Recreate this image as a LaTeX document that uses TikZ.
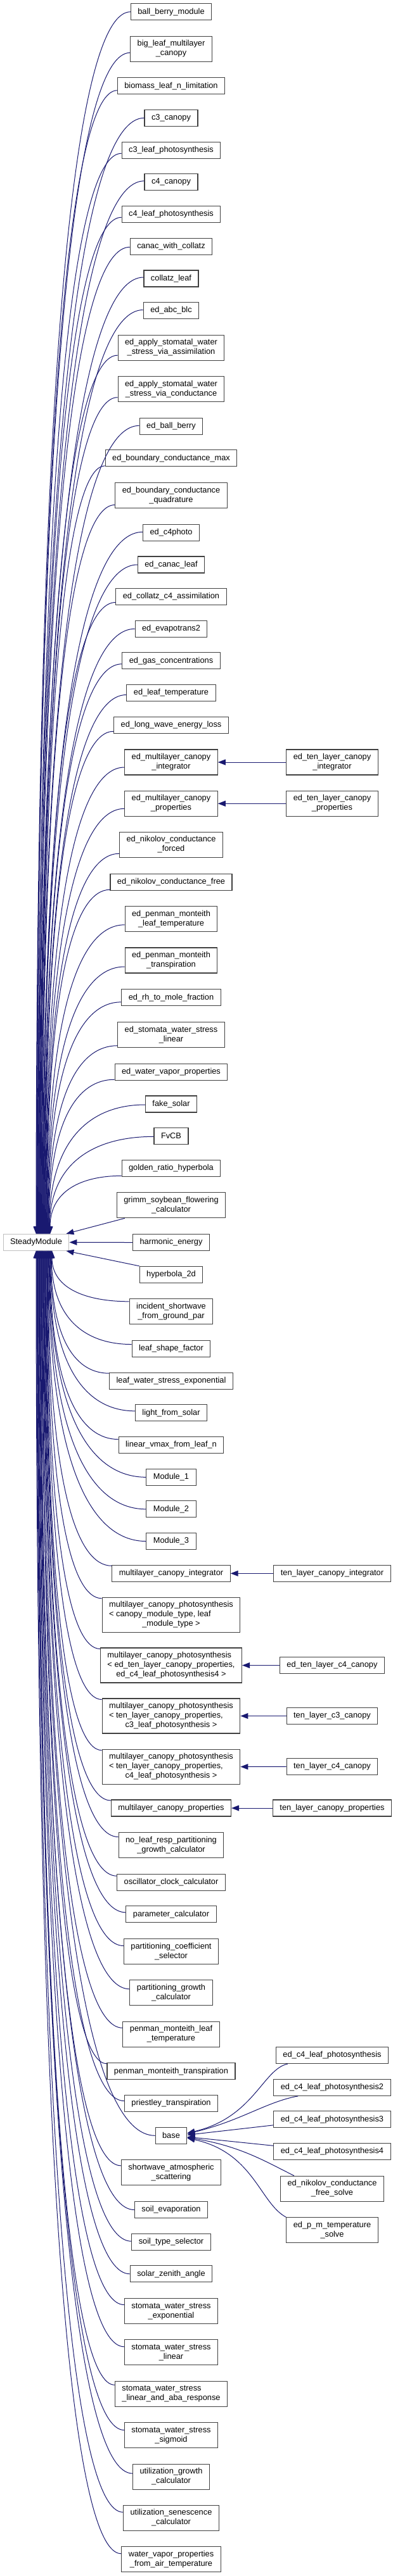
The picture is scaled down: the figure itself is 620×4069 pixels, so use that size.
\documentclass[tikz,border=0pt]{standalone}
\usepackage{fontspec}
\setmainfont{Liberation Sans}
\usetikzlibrary{arrows.meta,calc}
\definecolor{edgecol}{HTML}{191970}
\definecolor{boxcol}{HTML}{404040}
\definecolor{rootcol}{HTML}{BFBFBF}
\newcommand{\twol}[2]{\begin{tabular}{@{}l@{}}#1\\\multicolumn{1}{@{}c@{}}{#2}\end{tabular}}
\newcommand{\threel}[3]{\begin{tabular}{@{}l@{}}#1\\#2\\\multicolumn{1}{@{}c@{}}{#3}\end{tabular}}
\newcommand{\sedge}[4]{%
  \draw[inh] let \p1=($(#1.west)+(0,#2)$), \p2=(#3,#4),
    \n1={0.55*(\x1-\x2)}, \n2={0.75*(\y1-\y2)} in
    (\p1) .. controls ($(\p1)+(-\n1,0pt)$) and ($(\p2)+(0pt,\n2)$) .. (\p2);}
\newcommand{\uedge}[3]{\sedge{#1}{#2}{#3}{1949.3}}
\newcommand{\dedge}[3]{\sedge{#1}{#2}{#3}{1975.3}}
\tikzset{
  box/.style={draw=boxcol, line width=1.1pt, fill=white, inner xsep=11pt, inner ysep=2pt,
    minimum height=26pt, font=\fontsize{12.8}{15}\selectfont},
  box2/.style={box, minimum height=40pt},
  box3/.style={box, minimum height=55pt},
  rootbox/.style={box, draw=rootcol},
  inh/.style={draw=edgecol, line width=1pt, -{Triangle[length=12pt,width=9pt]}}
}
\begin{document}
\begin{tikzpicture}[x=1pt,y=-1pt]
\useasboundingbox (0,0) rectangle (620,4069);
% root
\node[rootbox] (sm) at (57,1962.3) {SteadyModule};
% middle column
\node[box]  (n01) at (270,18.7) {ball\_berry\_module};
\node[box2] (n02) at (270,77.3) {\twol{big\_leaf\_multilayer}{\_canopy}};
\node[box]  (n03) at (270,135.8) {biomass\_leaf\_n\_limitation};
\node[box]  (n04) at (270,186.3) {c3\_canopy};
\node[box]  (n05) at (270,237.3) {c3\_leaf\_photosynthesis};
\node[box]  (n06) at (270,287.8) {c4\_canopy};
\node[box]  (n07) at (270,338.3) {c4\_leaf\_photosynthesis};
\node[box]  (n08) at (270,389.3) {canac\_with\_collatz};
\node[box]  (n09) at (270,440) {collatz\_leaf};
\node[box]  (n10) at (270,490.5) {ed\_abc\_blc};
\node[box2] (n11) at (270,549.2) {\twol{ed\_apply\_stomatal\_water}{\_stress\_via\_assimilation}};
\node[box2] (n12) at (270,614.7) {\twol{ed\_apply\_stomatal\_water}{\_stress\_via\_conductance}};
\node[box]  (n13) at (270,673.3) {ed\_ball\_berry};
\node[box]  (n14) at (270,723.8) {ed\_boundary\_conductance\_max};
\node[box2] (n15) at (270,782.5) {\twol{ed\_boundary\_conductance}{\_quadrature}};
\node[box]  (n16) at (270,841.3) {ed\_c4photo};
\node[box]  (n17) at (270,892) {ed\_canac\_leaf};
\node[box]  (n18) at (270,942.5) {ed\_collatz\_c4\_assimilation};
\node[box]  (n19) at (270,993.3) {ed\_evapotrans2};
\node[box]  (n20) at (270,1043.8) {ed\_gas\_concentrations};
\node[box]  (n21) at (270,1094.5) {ed\_leaf\_temperature};
\node[box]  (n22) at (270,1145.2) {ed\_long\_wave\_energy\_loss};
\node[box2] (n23) at (270,1204) {\twol{ed\_multilayer\_canopy}{\_integrator}};
\node[box2] (n24) at (270,1269.3) {\twol{ed\_multilayer\_canopy}{\_properties}};
\node[box2] (n25) at (270,1334.3) {\twol{ed\_nikolov\_conductance}{\_forced}};
\node[box]  (n26) at (270,1393.3) {ed\_nikolov\_conductance\_free};
\node[box2] (n27) at (270,1451.8) {\twol{ed\_penman\_monteith}{\_leaf\_temperature}};
\node[box2] (n28) at (270,1517) {\twol{ed\_penman\_monteith}{\_transpiration}};
\node[box]  (n29) at (270,1575.8) {ed\_rh\_to\_mole\_fraction};
\node[box2] (n30) at (270,1634.7) {\twol{ed\_stomata\_water\_stress}{\_linear}};
\node[box]  (n31) at (270,1693.2) {ed\_water\_vapor\_properties};
\node[box]  (n32) at (270,1744) {fake\_solar};
\node[box]  (n33) at (270,1794.3) {FvCB};
\node[box]  (n34) at (270,1845.3) {golden\_ratio\_hyperbola};
\node[box2] (n35) at (270,1903.8) {\twol{grimm\_soybean\_flowering}{\_calculator}};
\node[box]  (n36) at (270,1962.5) {harmonic\_energy};
\node[box]  (n37) at (270,2013.3) {hyperbola\_2d};
\node[box2] (n38) at (270,2071.8) {\twol{incident\_shortwave}{\_from\_ground\_par}};
\node[box]  (n39) at (270,2130.5) {leaf\_shape\_factor};
\node[box]  (n40) at (270,2181.2) {leaf\_water\_stress\_exponential};
\node[box]  (n41) at (270,2231.8) {light\_from\_solar};
\node[box]  (n42) at (270,2282.5) {linear\_vmax\_from\_leaf\_n};
\node[box]  (n43) at (270,2333.3) {Module\_1};
\node[box]  (n44) at (270,2383.8) {Module\_2};
\node[box]  (n45) at (270,2434.5) {Module\_3};
\node[box]  (n46) at (270,2485.3) {multilayer\_canopy\_integrator};
\node[box3] (n47) at (270,2550.8) {\threel{multilayer\_canopy\_photosynthesis}{< canopy\_module\_type, leaf}{\_module\_type >}};
\node[box3] (n48) at (270,2630.5) {\threel{multilayer\_canopy\_photosynthesis}{< ed\_ten\_layer\_canopy\_properties,}{ed\_c4\_leaf\_photosynthesis4 >}};
\node[box3] (n49) at (270,2710.5) {\threel{multilayer\_canopy\_photosynthesis}{< ten\_layer\_canopy\_properties,}{c3\_leaf\_photosynthesis >}};
\node[box3] (n50) at (270,2790.7) {\threel{multilayer\_canopy\_photosynthesis}{< ten\_layer\_canopy\_properties,}{c4\_leaf\_photosynthesis >}};
\node[box]  (n51) at (270,2856) {multilayer\_canopy\_properties};
\node[box2] (n52) at (270,2914.5) {\twol{no\_leaf\_resp\_partitioning}{\_growth\_calculator}};
\node[box]  (n53) at (270,2973.2) {oscillator\_clock\_calculator};
\node[box]  (n54) at (270,3023.8) {parameter\_calculator};
\node[box2] (n55) at (270,3082.5) {\twol{partitioning\_coefficient}{\_selector}};
\node[box2] (n56) at (270,3147.8) {\twol{partitioning\_growth}{\_calculator}};
\node[box2] (n57) at (270,3213.2) {\twol{penman\_monteith\_leaf}{\_temperature}};
\node[box]  (n58) at (270,3271.8) {penman\_monteith\_transpiration};
\node[box]  (n59) at (270,3322.5) {priestley\_transpiration};
\node[box]  (n60) at (270,3373.3) {base};
\node[box2] (n61) at (270,3431.8) {\twol{shortwave\_atmospheric}{\_scattering}};
\node[box]  (n62) at (270,3490.5) {soil\_evaporation};
\node[box]  (n63) at (270,3541.2) {soil\_type\_selector};
\node[box]  (n64) at (270,3591.8) {solar\_zenith\_angle};
\node[box2] (n65) at (270,3650.5) {\twol{stomata\_water\_stress}{\_exponential}};
\node[box2] (n66) at (270,3715.8) {\twol{stomata\_water\_stress}{\_linear}};
\node[box2] (n67) at (270,3781.2) {\twol{stomata\_water\_stress}{\_linear\_and\_aba\_response}};
\node[box2] (n68) at (270,3846.5) {\twol{stomata\_water\_stress}{\_sigmoid}};
\node[box2] (n69) at (270,3912) {\twol{utilization\_growth}{\_calculator}};
\node[box2] (n70) at (270,3977.2) {\twol{utilization\_senescence}{\_calculator}};
\node[box2] (n71) at (270,4042.7) {\twol{water\_vapor\_properties}{\_from\_air\_temperature}};
% right column
\node[box2] (r23) at (524,1204) {\twol{ed\_ten\_layer\_canopy}{\_integrator}};
\node[box2] (r24) at (524,1269.3) {\twol{ed\_ten\_layer\_canopy}{\_properties}};
\node[box]  (r46) at (524,2485.3) {ten\_layer\_canopy\_integrator};
\node[box]  (r48) at (524,2630.5) {ed\_ten\_layer\_c4\_canopy};
\node[box]  (r49) at (524,2710.5) {ten\_layer\_c3\_canopy};
\node[box]  (r50) at (524,2790.5) {ten\_layer\_c4\_canopy};
\node[box]  (r51) at (524,2856) {ten\_layer\_canopy\_properties};
\node[box]  (b1) at (524,3246.5) {ed\_c4\_leaf\_photosynthesis};
\node[box]  (b2) at (524,3297.3) {ed\_c4\_leaf\_photosynthesis2};
\node[box]  (b3) at (524,3347.8) {ed\_c4\_leaf\_photosynthesis3};
\node[box]  (b4) at (524,3398.3) {ed\_c4\_leaf\_photosynthesis4};
\node[box2] (b5) at (524,3457.2) {\twol{ed\_nikolov\_conductance}{\_free\_solve}};
\node[box2] (b6) at (524,3522.7) {\twol{ed\_p\_m\_temperature}{\_solve}};
% edges to SteadyModule from above
\uedge{n01}{0}{57}
\uedge{n02}{6}{57.7}
\uedge{n03}{7}{58.3}
\uedge{n04}{0}{59}
\uedge{n05}{5}{59.7}
\uedge{n06}{-2}{60.3}
\uedge{n07}{5}{61}
\uedge{n08}{1}{61.7}
\uedge{n09}{-2}{62.3}
\uedge{n10}{-1}{63}
\uedge{n11}{12}{63.7}
\uedge{n12}{13}{64.3}
\uedge{n13}{-1}{65}
\uedge{n14}{12}{65.7}
\uedge{n15}{15}{66.3}
\uedge{n16}{-1}{67}
\uedge{n17}{0}{67.7}
\uedge{n18}{9}{68.3}
\uedge{n19}{0}{69}
\uedge{n20}{5}{69.7}
\uedge{n21}{3}{70.3}
\uedge{n22}{10}{71}
\uedge{n23}{8}{71.7}
\uedge{n24}{8}{72.3}
\uedge{n25}{14}{73}
\uedge{n26}{12}{73.7}
\uedge{n27}{9}{74.3}
\uedge{n28}{10}{75}
\uedge{n29}{7}{75.7}
\uedge{n30}{17}{76.3}
\uedge{n31}{12}{77}
\uedge{n32}{1}{77.7}
\uedge{n33}{1}{78.3}
\uedge{n34}{12}{79}
\draw[inh] ($(n35.south west)+(13,0)$) -- ($(sm.north east)+(-5,0)$);
\draw[inh] (n36.west) -- (sm.east);
\draw[inh] (n37.north west) -- ($(sm.south east)+(-5,0)$);
% edges to SteadyModule from below
\dedge{n38}{-16}{82}
\dedge{n39}{-7}{81.2}
\dedge{n40}{-12}{80.5}
\dedge{n41}{-3}{79.7}
\dedge{n42}{-9}{79}
\dedge{n43}{0}{78.2}
\dedge{n44}{0}{77.5}
\dedge{n45}{0}{76.7}
\dedge{n46}{-12}{75.9}
\dedge{n47}{-26}{75.2}
\dedge{n48}{-26}{74.4}
\dedge{n49}{-26}{73.7}
\dedge{n50}{-26}{72.9}
\dedge{n51}{-12}{72.1}
\dedge{n52}{-13}{71.4}
\dedge{n53}{-10}{70.6}
\dedge{n54}{-3}{69.9}
\dedge{n55}{-9}{69.1}
\dedge{n56}{-6}{68.4}
\dedge{n57}{-10}{67.6}
\dedge{n58}{-12}{66.8}
\dedge{n59}{-4}{66.1}
\dedge{n60}{0}{65.3}
\dedge{n61}{-11}{64.6}
\dedge{n62}{0}{63.8}
\dedge{n63}{-1}{63.1}
\dedge{n64}{0}{62.3}
\dedge{n65}{-10}{61.5}
\dedge{n66}{-9}{60.8}
\dedge{n67}{-14}{60}
\dedge{n68}{-8}{59.3}
\dedge{n69}{-5}{58.5}
\dedge{n70}{-9}{57.8}
\dedge{n71}{-9}{57}
% right column edges
\draw[inh] (r23.west) -- (n23.east);
\draw[inh] (r24.west) -- (n24.east);
\draw[inh] (r46.west) -- (n46.east);
\draw[inh] (r48.west) -- (n48.east);
\draw[inh] (r49.west) -- (n49.east);
\draw[inh] (r50.west) -- (n50.east);
\draw[inh] (r51.west) -- (n51.east);
% fan into base
\draw[inh] ($(b1.south west)+(19,0)$) .. controls (415,3268) and (400,3345) .. ($(n60.east)+(0,-4)$);
\draw[inh] ($(b2.south west)+(39,0)$) .. controls (420,3320) and (380,3350) .. ($(n60.east)+(0,-3)$);
\draw[inh] ($(b3.west)+(0,9)$) -- ($(n60.east)+(0,-1)$);
\draw[inh] ($(b4.west)+(0,-9)$) -- ($(n60.east)+(0,2)$);
\draw[inh] ($(b5.north west)+(22,0)$) .. controls (420,3415) and (380,3390) .. ($(n60.east)+(0,3)$);
\draw[inh] (b6.north west) .. controls (410,3480) and (400,3400) .. ($(n60.east)+(0,4)$);
\end{tikzpicture}
\end{document}
